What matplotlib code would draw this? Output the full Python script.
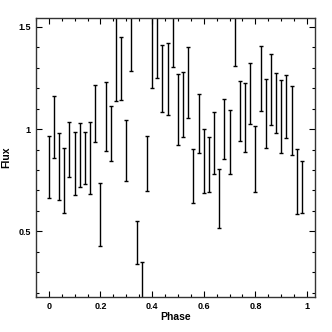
import numpy as np
import matplotlib
matplotlib.use("Agg")
import matplotlib.pyplot as plt
from matplotlib.ticker import MultipleLocator

phase = [0.00, 0.02, 0.04, 0.06, 0.08, 0.10, 0.12, 0.14, 0.16, 0.18,
         0.20, 0.22, 0.24, 0.26, 0.28, 0.30, 0.32, 0.34, 0.36, 0.38,
         0.40, 0.42, 0.44, 0.46, 0.48, 0.50, 0.52, 0.54, 0.56, 0.58,
         0.60, 0.62, 0.64, 0.66, 0.68, 0.70, 0.72, 0.74, 0.76, 0.78,
         0.80, 0.82, 0.84, 0.86, 0.88, 0.90, 0.92, 0.94, 0.96, 0.98]
flux_low = [0.661, 0.860, 0.654, 0.591, 0.767, 0.679, 0.718, 0.730, 0.684, 0.935,
            0.428, 0.892, 0.845, 1.138, 1.140, 0.744, 1.282, 0.340, 0.080, 0.698,
            1.200, 1.249, 1.083, 1.068, 1.302, 0.923, 0.962, 1.052, 0.637, 0.881,
            0.689, 0.694, 0.782, 0.518, 0.853, 0.780, 1.306, 0.943, 0.888, 1.023,
            0.692, 1.089, 0.909, 1.018, 0.980, 0.881, 0.957, 0.873, 0.586, 0.588]
flux_high = [0.964, 1.163, 0.979, 0.909, 1.034, 0.984, 1.031, 0.987, 1.036, 1.214,
             0.734, 1.230, 1.111, 1.760, 1.448, 1.046, 1.600, 0.553, 0.351, 0.964,
             1.700, 1.720, 1.409, 1.422, 1.620, 1.270, 1.279, 1.402, 0.904, 1.173,
             1.002, 0.962, 1.085, 0.804, 1.145, 1.091, 1.640, 1.233, 1.225, 1.321,
             1.016, 1.406, 1.246, 1.367, 1.275, 1.238, 1.264, 1.212, 0.901, 0.845]

x = np.array(phase)
lo = np.array(flux_low)
hi = np.array(flux_high)
mid = (lo + hi) / 2
err = (hi - lo) / 2

fig = plt.figure(figsize=(3.32, 3.32), dpi=100)
ax = fig.add_axes([0.108, 0.106, 0.841, 0.841])

ax.errorbar(x, mid, yerr=err, fmt='none', ecolor='black', elinewidth=1.0,
            capsize=1.3, capthick=1.0)

ax.set_xlim(-0.05, 1.031)
ax.set_ylim(0.18, 1.545)

ax.xaxis.set_major_locator(MultipleLocator(0.2))
ax.xaxis.set_minor_locator(MultipleLocator(0.05))
ax.yaxis.set_major_locator(MultipleLocator(0.5))
ax.yaxis.set_minor_locator(MultipleLocator(0.1))
ax.xaxis.set_major_formatter(plt.FuncFormatter(lambda v, p: f"{v:g}"))
ax.yaxis.set_major_formatter(plt.FuncFormatter(lambda v, p: f"{v:g}"))

ax.tick_params(which='both', direction='in', top=True, right=True, width=0.8,
               labelsize=6.5, color='black')
ax.tick_params(which='major', length=4.3, pad=3.5)
ax.tick_params(which='minor', length=2.2)
for lab in ax.get_xticklabels() + ax.get_yticklabels():
    lab.set_fontweight('bold')
    lab.set_family('Liberation Sans')

for sp in ax.spines.values():
    sp.set_linewidth(1.0)
    sp.set_color('#333333')

ax.set_xlabel('Phase', fontsize=7.5, fontweight='bold', family='Liberation Sans', labelpad=1)
ax.set_ylabel('Flux', fontsize=7.5, fontweight='bold', family='Liberation Sans', labelpad=5)

fig.savefig('out.png', dpi=100)
